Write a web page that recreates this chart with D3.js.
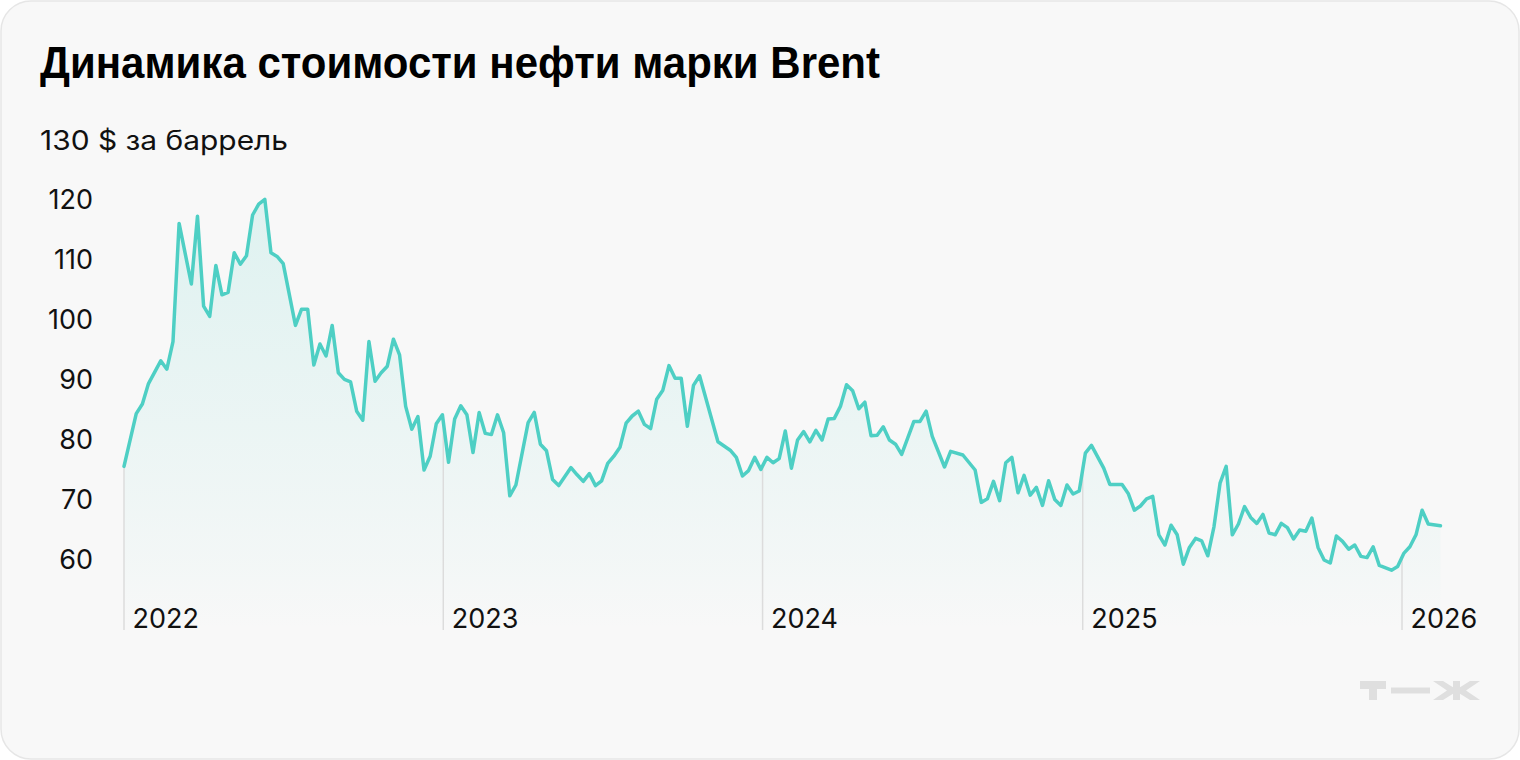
<!DOCTYPE html>
<html><head><meta charset="utf-8">
<script src="https://cdn.jsdelivr.net/npm/d3@7"></script>
<style>
html,body{margin:0;padding:0;background:#ffffff;}
svg{display:block;font-family:Inter,"Liberation Sans",Arial,sans-serif;}
</style></head>
<body><svg id="chart" width="1520" height="760"></svg>
<script>
const title = "Динамика стоимости нефти марки Brent";
const unitLabel = "130 $ за баррель";
const yTicks = [60, 70, 80, 90, 100, 110, 120];
const yearTicks = ["2022-01-01", "2023-01-01", "2024-01-01", "2025-01-01", "2026-01-01"];
const dates = [
"2022-01-01","2022-01-15","2022-01-22","2022-01-29","2022-02-12","2022-02-19","2022-02-26","2022-03-05","2022-03-19","2022-03-26",
"2022-04-02","2022-04-09","2022-04-16","2022-04-23","2022-04-30","2022-05-07","2022-05-14","2022-05-21","2022-05-28","2022-06-04",
"2022-06-11","2022-06-18","2022-06-25","2022-07-02","2022-07-16","2022-07-23","2022-07-30","2022-08-06","2022-08-13","2022-08-20",
"2022-08-27","2022-09-03","2022-09-10","2022-09-17","2022-09-24","2022-10-01","2022-10-08","2022-10-15","2022-10-22","2022-10-29",
"2022-11-05","2022-11-12","2022-11-19","2022-11-26","2022-12-03","2022-12-10","2022-12-17","2022-12-24","2022-12-31","2023-01-07",
"2023-01-14","2023-01-21","2023-01-28","2023-02-04","2023-02-11","2023-02-18","2023-02-25","2023-03-04","2023-03-11","2023-03-18",
"2023-03-25","2023-04-08","2023-04-15","2023-04-22","2023-04-29","2023-05-06","2023-05-13","2023-05-20","2023-05-27","2023-06-03",
"2023-06-10","2023-06-17","2023-06-24","2023-07-01","2023-07-08","2023-07-15","2023-07-22","2023-07-29","2023-08-05","2023-08-12",
"2023-08-19","2023-08-26","2023-09-02","2023-09-09","2023-09-16","2023-09-23","2023-09-30","2023-10-07","2023-10-14","2023-10-21",
"2023-11-11","2023-11-25","2023-12-02","2023-12-09","2023-12-16","2023-12-23","2023-12-30","2024-01-06","2024-01-13","2024-01-20",
"2024-01-27","2024-02-03","2024-02-10","2024-02-17","2024-02-24","2024-03-02","2024-03-09","2024-03-16","2024-03-23","2024-03-30",
"2024-04-06","2024-04-13","2024-04-20","2024-04-27","2024-05-04","2024-05-11","2024-05-18","2024-05-25","2024-06-01","2024-06-08",
"2024-06-22","2024-06-29","2024-07-06","2024-07-13","2024-07-27","2024-08-03","2024-08-17","2024-08-31","2024-09-07","2024-09-14",
"2024-09-21","2024-09-28","2024-10-05","2024-10-12","2024-10-19","2024-10-26","2024-11-02","2024-11-09","2024-11-16","2024-11-23",
"2024-11-30","2024-12-07","2024-12-14","2024-12-21","2024-12-28","2025-01-04","2025-01-11","2025-01-25","2025-02-01","2025-02-15",
"2025-02-22","2025-03-01","2025-03-08","2025-03-15","2025-03-22","2025-03-29","2025-04-05","2025-04-12","2025-04-19","2025-04-26",
"2025-05-03","2025-05-10","2025-05-17","2025-05-24","2025-05-31","2025-06-07","2025-06-14","2025-06-21","2025-06-28","2025-07-05",
"2025-07-12","2025-07-19","2025-07-26","2025-08-02","2025-08-09","2025-08-16","2025-08-23","2025-08-30","2025-09-06","2025-09-13",
"2025-09-20","2025-09-27","2025-10-04","2025-10-11","2025-10-18","2025-10-25","2025-11-01","2025-11-08","2025-11-15","2025-11-22",
"2025-11-29","2025-12-06","2025-12-20","2025-12-27","2026-01-03","2026-01-10","2026-01-17","2026-01-24","2026-01-31","2026-02-14"
];
const prices = [
75.6,84.4,86.0,89.4,93.2,91.8,96.4,116.1,106.0,117.3,
102.3,100.6,109.1,104.2,104.6,111.2,109.3,110.7,117.5,119.3,
120.1,111.2,110.6,109.4,99.1,101.8,101.8,92.5,96.0,94.0,
99.1,91.2,90.1,89.7,84.8,83.3,96.4,89.8,91.2,92.3,
96.8,94.2,85.6,81.8,83.9,75.0,77.3,82.7,84.2,76.3,
83.5,85.7,84.2,77.9,84.6,81.1,80.9,84.2,81.2,70.7,
72.5,82.9,84.6,79.3,78.2,73.4,72.4,73.9,75.4,74.2,
73.1,74.4,72.4,73.2,76.1,77.3,78.8,82.8,84.0,84.8,
82.6,81.9,86.8,88.3,92.4,90.3,90.3,82.3,89.1,90.7,
79.7,78.3,77.1,74.0,74.9,77.1,75.1,77.1,76.2,76.9,
81.5,75.3,80.0,81.4,79.7,81.6,80.0,83.5,83.6,85.6,
89.2,88.2,85.2,86.3,80.7,80.8,82.2,80.0,79.3,77.6,
83.1,83.1,84.8,80.6,75.5,78.1,77.5,75.0,69.6,70.2,
73.1,69.9,76.2,77.1,71.2,74.1,70.8,72.1,69.1,73.2,
70.1,69.1,72.5,71.0,71.5,77.8,79.1,75.3,72.6,72.6,
71.1,68.3,69.0,70.2,70.6,64.2,62.5,65.8,64.2,59.3,
62.1,63.6,63.2,60.7,65.5,72.8,75.6,64.2,66.0,68.9,
67.1,66.1,67.6,64.5,64.2,66.1,65.4,63.5,65.0,64.8,
67.0,62.1,60.0,59.5,64.0,63.1,61.8,62.5,60.6,60.4,
62.2,59.1,58.3,58.9,61.1,62.2,64.2,68.3,66.0,65.7
];

const parse = d3.utcParse("%Y-%m-%d");
const data = dates.map((d, i) => ({date: parse(d), value: prices[i]}));
const years = yearTicks.map(parse);

const svg = d3.select("#chart");
const W = 1520, H = 760;
const lineColor = "#4ecfc4";
const labelFont = "Inter, 'Liberation Sans', Arial, sans-serif";

// card
svg.append("rect").attr("x", 1).attr("y", 1).attr("width", W - 2).attr("height", H - 2)
  .attr("rx", 30).attr("ry", 30).attr("fill", "#f8f8f8").attr("stroke", "#e6e6e6").attr("stroke-width", 1.5);

// scales
const x = d3.scaleUtc().domain([years[0], years[years.length - 1]]).range([124, 1402]);
const y = d3.scaleLinear().domain([60, 120]).range([560, 200]);
const bottomY = 630;

// title
svg.append("text").attr("x", 40).attr("y", 78)
  .attr("font-family", "'Liberation Sans', Arial, sans-serif")
  .attr("font-size", 44).attr("font-weight", 700).attr("fill", "#000").text(title)
  .attr("textLength", 840).attr("lengthAdjust", "spacingAndGlyphs");

// unit label at 130
svg.append("text").attr("x", 40).attr("y", y(130)).attr("dy", "0.36em")
  .attr("font-family", labelFont)
  .attr("font-size", 27).attr("fill", "#111").text(unitLabel)
  .attr("textLength", 248).attr("lengthAdjust", "spacingAndGlyphs");

// gradient
const defs = svg.append("defs");
const grad = defs.append("linearGradient").attr("id", "areaGrad")
  .attr("gradientUnits", "userSpaceOnUse").attr("x1", 0).attr("x2", 0)
  .attr("y1", y(120)).attr("y2", bottomY);
grad.append("stop").attr("offset", 0).attr("stop-color", lineColor).attr("stop-opacity", 0.15);
grad.append("stop").attr("offset", 0.85).attr("stop-color", lineColor).attr("stop-opacity", 0.03);
grad.append("stop").attr("offset", 1).attr("stop-color", lineColor).attr("stop-opacity", 0.0);

const area = d3.area().x(d => x(d.date)).y0(bottomY).y1(d => y(d.value));
svg.append("path").datum(data).attr("d", area).attr("fill", "url(#areaGrad)");

// year lines (from line down to bottom)
const bis = d3.bisector(d => d.date).left;
function valueAt(dt) {
  let i = bis(data, dt);
  if (i <= 0) return data[0].value;
  if (i >= data.length) return data[data.length - 1].value;
  const a = data[i - 1], b = data[i];
  const f = (dt - a.date) / (b.date - a.date);
  return a.value + f * (b.value - a.value);
}
svg.append("g").selectAll("line").data(years).join("line")
  .attr("x1", d => x(d)).attr("x2", d => x(d))
  .attr("y1", d => y(valueAt(d))).attr("y2", bottomY)
  .attr("stroke", "#dcdcdc").attr("stroke-width", 1.5);

// line
const line = d3.line().x(d => x(d.date)).y(d => y(d.value));
svg.append("path").datum(data).attr("d", line).attr("fill", "none")
  .attr("stroke", lineColor).attr("stroke-width", 3.5).attr("stroke-linejoin", "round").attr("stroke-linecap", "round");

// y axis
const yAxis = svg.append("g").attr("transform", "translate(93,0)")
  .call(d3.axisLeft(y).tickValues(yTicks).tickSize(0).tickPadding(0).tickFormat(d3.format("d")));
yAxis.select(".domain").remove();
yAxis.selectAll("text").attr("font-size", 27).attr("fill", "#111")
  .attr("font-family", labelFont);

// x axis
const xAxis = svg.append("g").attr("transform", `translate(0,${bottomY})`)
  .call(d3.axisBottom(x).tickValues(years).tickSize(0).tickFormat(d3.utcFormat("%Y")));
xAxis.select(".domain").remove();
xAxis.selectAll("text").attr("font-size", 27).attr("fill", "#111")
  .attr("text-anchor", "start").attr("x", 8).attr("y", 0).attr("dy", "-0.07em")
  .attr("font-family", labelFont);

// logo т—ж
const logo = svg.append("g").attr("fill", "#dfdfdf");
logo.append("path").attr("d", "M1360,681H1386V689H1377V700H1369V689H1360Z");
logo.append("rect").attr("x", 1391).attr("y", 687.5).attr("width", 39).attr("height", 6);
logo.append("path").attr("d", "M1433,681H1443L1455,688.5V692.5L1443,700H1433L1447,690.5Z");
logo.append("path").attr("d", "M1480,681H1470L1458,688.5V692.5L1470,700H1480L1466,690.5Z");
logo.append("rect").attr("x", 1453).attr("y", 681).attr("width", 7).attr("height", 19);
</script></body></html>
